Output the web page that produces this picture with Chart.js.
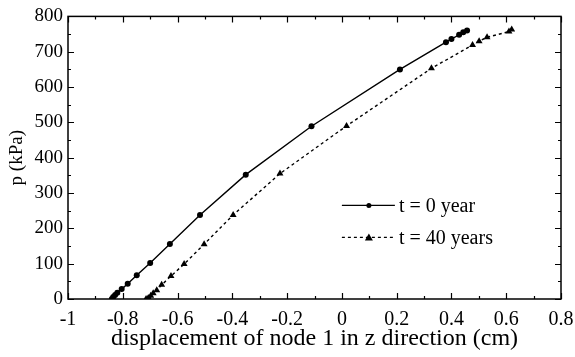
<!DOCTYPE html>
<html>
<head>
<meta charset="utf-8">
<script src="https://cdn.jsdelivr.net/npm/chart.js@4"></script>
<style>
  html, body { margin: 0; padding: 0; background: #fff; }
  #wrap { width: 575px; height: 357px; }
</style>
</head>
<body>
<div id="wrap"><canvas id="myChart" width="575" height="357"></canvas></div>
<script>
// displacement (cm) and load p (kPa)
var x0 = [-0.840, -0.835, -0.828, -0.820, -0.804, -0.782, -0.749, -0.700, -0.628, -0.518, -0.351, -0.111, 0.212, 0.380, 0.400, 0.428, 0.443, 0.457];
var p0 = [0, 6, 11, 18, 28, 43, 67, 102, 156, 238, 352, 489, 650, 727, 736, 748, 755, 760];
var x40 = [-0.715, -0.707, -0.698, -0.689, -0.676, -0.658, -0.624, -0.576, -0.503, -0.397, -0.226, 0.017, 0.327, 0.477, 0.501, 0.530, 0.610, 0.620];
var p40 = [0, 3, 9, 16, 25, 40, 65, 99, 155, 238, 355, 490, 653, 719, 730, 741, 757, 763];
var seriesNames = ['t = 0 year', 't = 40 years'];

function pts(xs, ys) {
  return xs.map(function (v, i) { return { x: v, y: ys[i] }; });
}

var serif = "'Liberation Serif', 'Times New Roman', serif";

// inward ticks on all four sides + legend inside the plot
var frame = {
  id: 'frame',
  afterDraw: function (chart) {
    var c = chart.ctx, a = chart.chartArea;
    var xs = chart.scales.x, ys = chart.scales.y;
    c.save();
    c.strokeStyle = '#000';
    c.lineWidth = 1.5;
    c.strokeRect(a.left, a.top, a.right - a.left, a.bottom - a.top);
    c.lineWidth = 1.2;
    c.beginPath();
    for (var v = -1; v <= 0.8001; v += 0.1) {
      var px = Math.round(xs.getPixelForValue(v)) + 0.5;
      var major = Math.abs(Math.round(v * 10)) % 2 === 0;
      var len = major ? 6 : 3;
      c.moveTo(px, a.bottom); c.lineTo(px, a.bottom - len);
      c.moveTo(px, a.top); c.lineTo(px, a.top + len);
    }
    for (var w = 0; w <= 800; w += 50) {
      var py = Math.round(ys.getPixelForValue(w)) + 0.5;
      var l2 = (w % 100 === 0) ? 6 : 3;
      c.moveTo(a.left, py); c.lineTo(a.left + l2, py);
      c.moveTo(a.right, py); c.lineTo(a.right - l2, py);
    }
    c.stroke();

    // legend
    var lx = xs.getPixelForValue(0), ly = ys.getPixelForValue(265);
    chart.data.datasets.forEach(function (ds, i) {
      var y = ly + i * 32;
      c.strokeStyle = '#000';
      c.lineWidth = 1.3;
      c.setLineDash(ds.borderDash || []);
      c.beginPath(); c.moveTo(lx, y); c.lineTo(lx + 53, y); c.stroke();
      c.setLineDash([]);
      c.fillStyle = '#000';
      c.beginPath();
      if (ds.pointStyle === 'triangle') {
        c.moveTo(lx + 27, y - 4); c.lineTo(lx + 31, y + 3); c.lineTo(lx + 23, y + 3);
      } else {
        c.arc(lx + 27, y, 2.5, 0, Math.PI * 2);
      }
      c.fill();
      c.font = '20px ' + serif;
      c.textBaseline = 'middle';
      c.fillText(ds.label, lx + 57, y + 1);
    });
    c.restore();
  }
};

var ctx = document.getElementById('myChart').getContext('2d');
var myChart = new Chart(ctx, {
  type: 'scatter',
  data: {
    datasets: [{
      label: seriesNames[0],
      data: pts(x0, p0),
      showLine: true,
      borderColor: '#000',
      backgroundColor: '#000',
      borderWidth: 1.4,
      pointStyle: 'circle',
      pointRadius: 3,
      pointBorderWidth: 0
    }, {
      label: seriesNames[1],
      data: pts(x40, p40),
      showLine: true,
      borderColor: '#000',
      backgroundColor: '#000',
      borderWidth: 1.4,
      borderDash: [3, 3],
      pointStyle: 'triangle',
      pointRadius: 4,
      pointBorderWidth: 0
    }]
  },
  options: {
    responsive: false,
    animation: false,
    layout: { padding: { left: 0, right: 14, top: 16, bottom: 0 } },
    plugins: { legend: { display: false }, tooltip: { enabled: false } },
    scales: {
      x: {
        type: 'linear', min: -1, max: 0.8,
        border: { display: false },
        grid: { display: false },
        afterFit: function (s) { s.height = 58; },
        ticks: {
          stepSize: 0.2, color: '#000', padding: 1,
          font: { family: serif, size: 20 },
          callback: function (v) { return Math.round(v * 10) / 10; }
        },
        title: { display: true, text: 'displacement of node 1 in z direction (cm)', color: '#000', padding: { top: -1 }, font: { family: serif, size: 24 } }
      },
      y: {
        type: 'linear', min: 0, max: 800,
        border: { display: false },
        grid: { display: false, drawTicks: false },
        afterFit: function (s) { s.width = 68; },
        ticks: { stepSize: 100, color: '#000', padding: 5, font: { family: serif, size: 19 } },
        title: { display: true, text: 'p (kPa)', color: '#000', padding: { top: 6, bottom: 0 }, font: { family: serif, size: 19 } }
      }
    }
  },
  plugins: [frame]
});
</script>
</body>
</html>
